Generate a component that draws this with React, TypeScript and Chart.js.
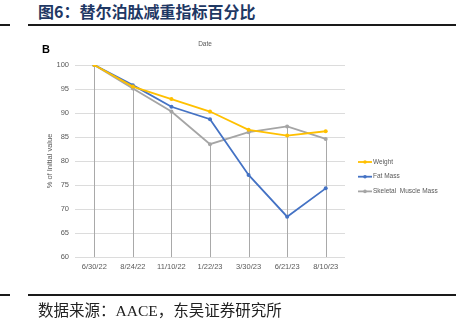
import React, { useEffect, useRef } from "react";
import { Chart, registerables } from "chart.js";

Chart.register(...registerables);

const categories = ["6/30/22", "8/24/22", "11/10/22", "1/22/23", "3/30/23", "6/21/23", "8/10/23"];
const weight = [100, 95.5, 92.9, 90.3, 86.5, 85.3, 86.2];
const fatMass = [100, 95.8, 91.3, 88.7, 77.1, 68.4, 74.3];
const skeletalMuscle = [100, 95.1, 90.3, 83.5, 86.0, 87.2, 84.6];
const seriesNames = ["Weight", "Fat Mass", "Skeletal  Muscle Mass"];
const seriesColors = ["#FFC000", "#4472C4", "#A5A5A5"];
const yTicks = { min: 60, max: 100, step: 5 };

const FONT = "'Liberation Sans', Arial, sans-serif";

const dropLines = {
  id: "dropLines",
  beforeDatasetsDraw(chart: any) {
    const meta = chart.getDatasetMeta(2);
    const ctx = chart.ctx;
    const bottom = chart.chartArea.bottom;
    ctx.save();
    ctx.strokeStyle = "#a9a9a9";
    ctx.lineWidth = 1;
    meta.data.forEach((pt: any) => {
      const x = Math.round(pt.x) + 0.5;
      ctx.beginPath();
      ctx.moveTo(x, pt.y);
      ctx.lineTo(x, bottom);
      ctx.stroke();
    });
    ctx.restore();
  },
};

const customLegend = {
  id: "customLegend",
  afterDraw(chart: any) {
    const ctx = chart.ctx;
    ctx.save();
    chart.data.datasets.forEach((ds: any, i: number) => {
      const y = 162 + i * 14.7;
      ctx.strokeStyle = ds.borderColor;
      ctx.lineWidth = 1.8;
      ctx.beginPath();
      ctx.moveTo(358, y);
      ctx.lineTo(372, y);
      ctx.stroke();
      ctx.fillStyle = ds.borderColor;
      ctx.beginPath();
      ctx.arc(365, y, 1.8, 0, Math.PI * 2);
      ctx.fill();
      ctx.fillStyle = "#595959";
      ctx.font = `6.5px ${FONT}`;
      ctx.textAlign = "left";
      ctx.textBaseline = "middle";
      ctx.fillText(ds.label, 373, y);
    });
    // "Date" heading and panel letter
    ctx.fillStyle = "#595959";
    ctx.font = `6.5px ${FONT}`;
    ctx.textAlign = "center";
    ctx.fillText("Date", 205, 44);
    ctx.fillStyle = "#000";
    ctx.font = `bold 11px ${FONT}`;
    ctx.textAlign = "left";
    ctx.fillText("B", 42, 50);
    ctx.restore();
  },
};

function ChartCanvas() {
  const ref = useRef<HTMLCanvasElement>(null);
  useEffect(() => {
    if (!ref.current) return;
    const data = [weight, fatMass, skeletalMuscle];
    const chart = new Chart(ref.current, {
      type: "line",
      data: {
        labels: categories,
        datasets: data.map((d, i) => ({
          label: seriesNames[i],
          data: d,
          borderColor: seriesColors[i],
          backgroundColor: seriesColors[i],
          borderWidth: 1.8,
          pointRadius: 2,
          pointBorderWidth: 0,
          pointHoverRadius: 2,
          tension: 0,
        })),
      },
      options: {
        responsive: false,
        animation: false,
        devicePixelRatio: 1,
        layout: { padding: { top: 65, left: 44, right: 111, bottom: 48 } },
        plugins: {
          legend: { display: false },
          tooltip: { enabled: false },
        },
        scales: {
          x: {
            offset: true,
            grid: { display: false, drawTicks: false },
            border: { display: false },
            ticks: {
              color: "#595959",
              font: { family: FONT, size: 7.5 },
              padding: 5,
              maxRotation: 0,
              autoSkip: false,
            },
            afterFit(scale: any) {
              scale.height = 20;
            },
          },
          y: {
            min: yTicks.min,
            max: yTicks.max,
            grid: { color: "#dcdcdc", drawTicks: false, lineWidth: 1 },
            border: { display: false },
            ticks: {
              stepSize: yTicks.step,
              color: "#595959",
              font: { family: FONT, size: 7.5 },
              padding: 6,
            },
            title: {
              display: true,
              text: "% of Initial value",
              color: "#595959",
              font: { family: FONT, size: 7.5 },
              padding: { top: 1.5, bottom: 0 },
            },
            afterFit(scale: any) {
              scale.width = 31;
            },
          },
        },
      },
      plugins: [dropLines, customLegend],
    });
    return () => chart.destroy();
  }, []);
  return (
    <canvas
      ref={ref}
      width={456}
      height={325}
      style={{ position: "absolute", left: 0, top: 0, width: 456, height: 325 }}
    />
  );
}

export default function App() {
  const rule = (top: number) => (
    <>
      <div style={{ position: "absolute", left: 0, top, width: 10, height: 2, background: "#1a1a1a" }} />
      <div style={{ position: "absolute", left: 28, top, width: 428, height: 2, background: "#1a1a1a" }} />
    </>
  );
  return (
    <div
      style={{
        position: "fixed",
        left: 0,
        top: 0,
        width: 456,
        height: 325,
        background: "#fff",
        overflow: "hidden",
      }}
    >
      <div
        style={{
          position: "absolute",
          left: 38,
          top: 2,
          fontFamily: "'Noto Sans CJK SC', sans-serif",
          fontWeight: 700,
          fontSize: 16,
          lineHeight: "18px",
          color: "#1F3864",
          whiteSpace: "nowrap",
        }}
      >
        图6：替尔泊肽减重指标百分比
      </div>
      {rule(24)}
      <ChartCanvas />
      {rule(294)}
      <div
        style={{
          position: "absolute",
          left: 38,
          top: 301,
          fontFamily: "'Liberation Serif', 'Noto Sans CJK SC', serif",
          fontSize: 15.5,
          lineHeight: "19px",
          color: "#222",
          whiteSpace: "nowrap",
        }}
      >
        数据来源：AACE，东吴证券研究所
      </div>
    </div>
  );
}
